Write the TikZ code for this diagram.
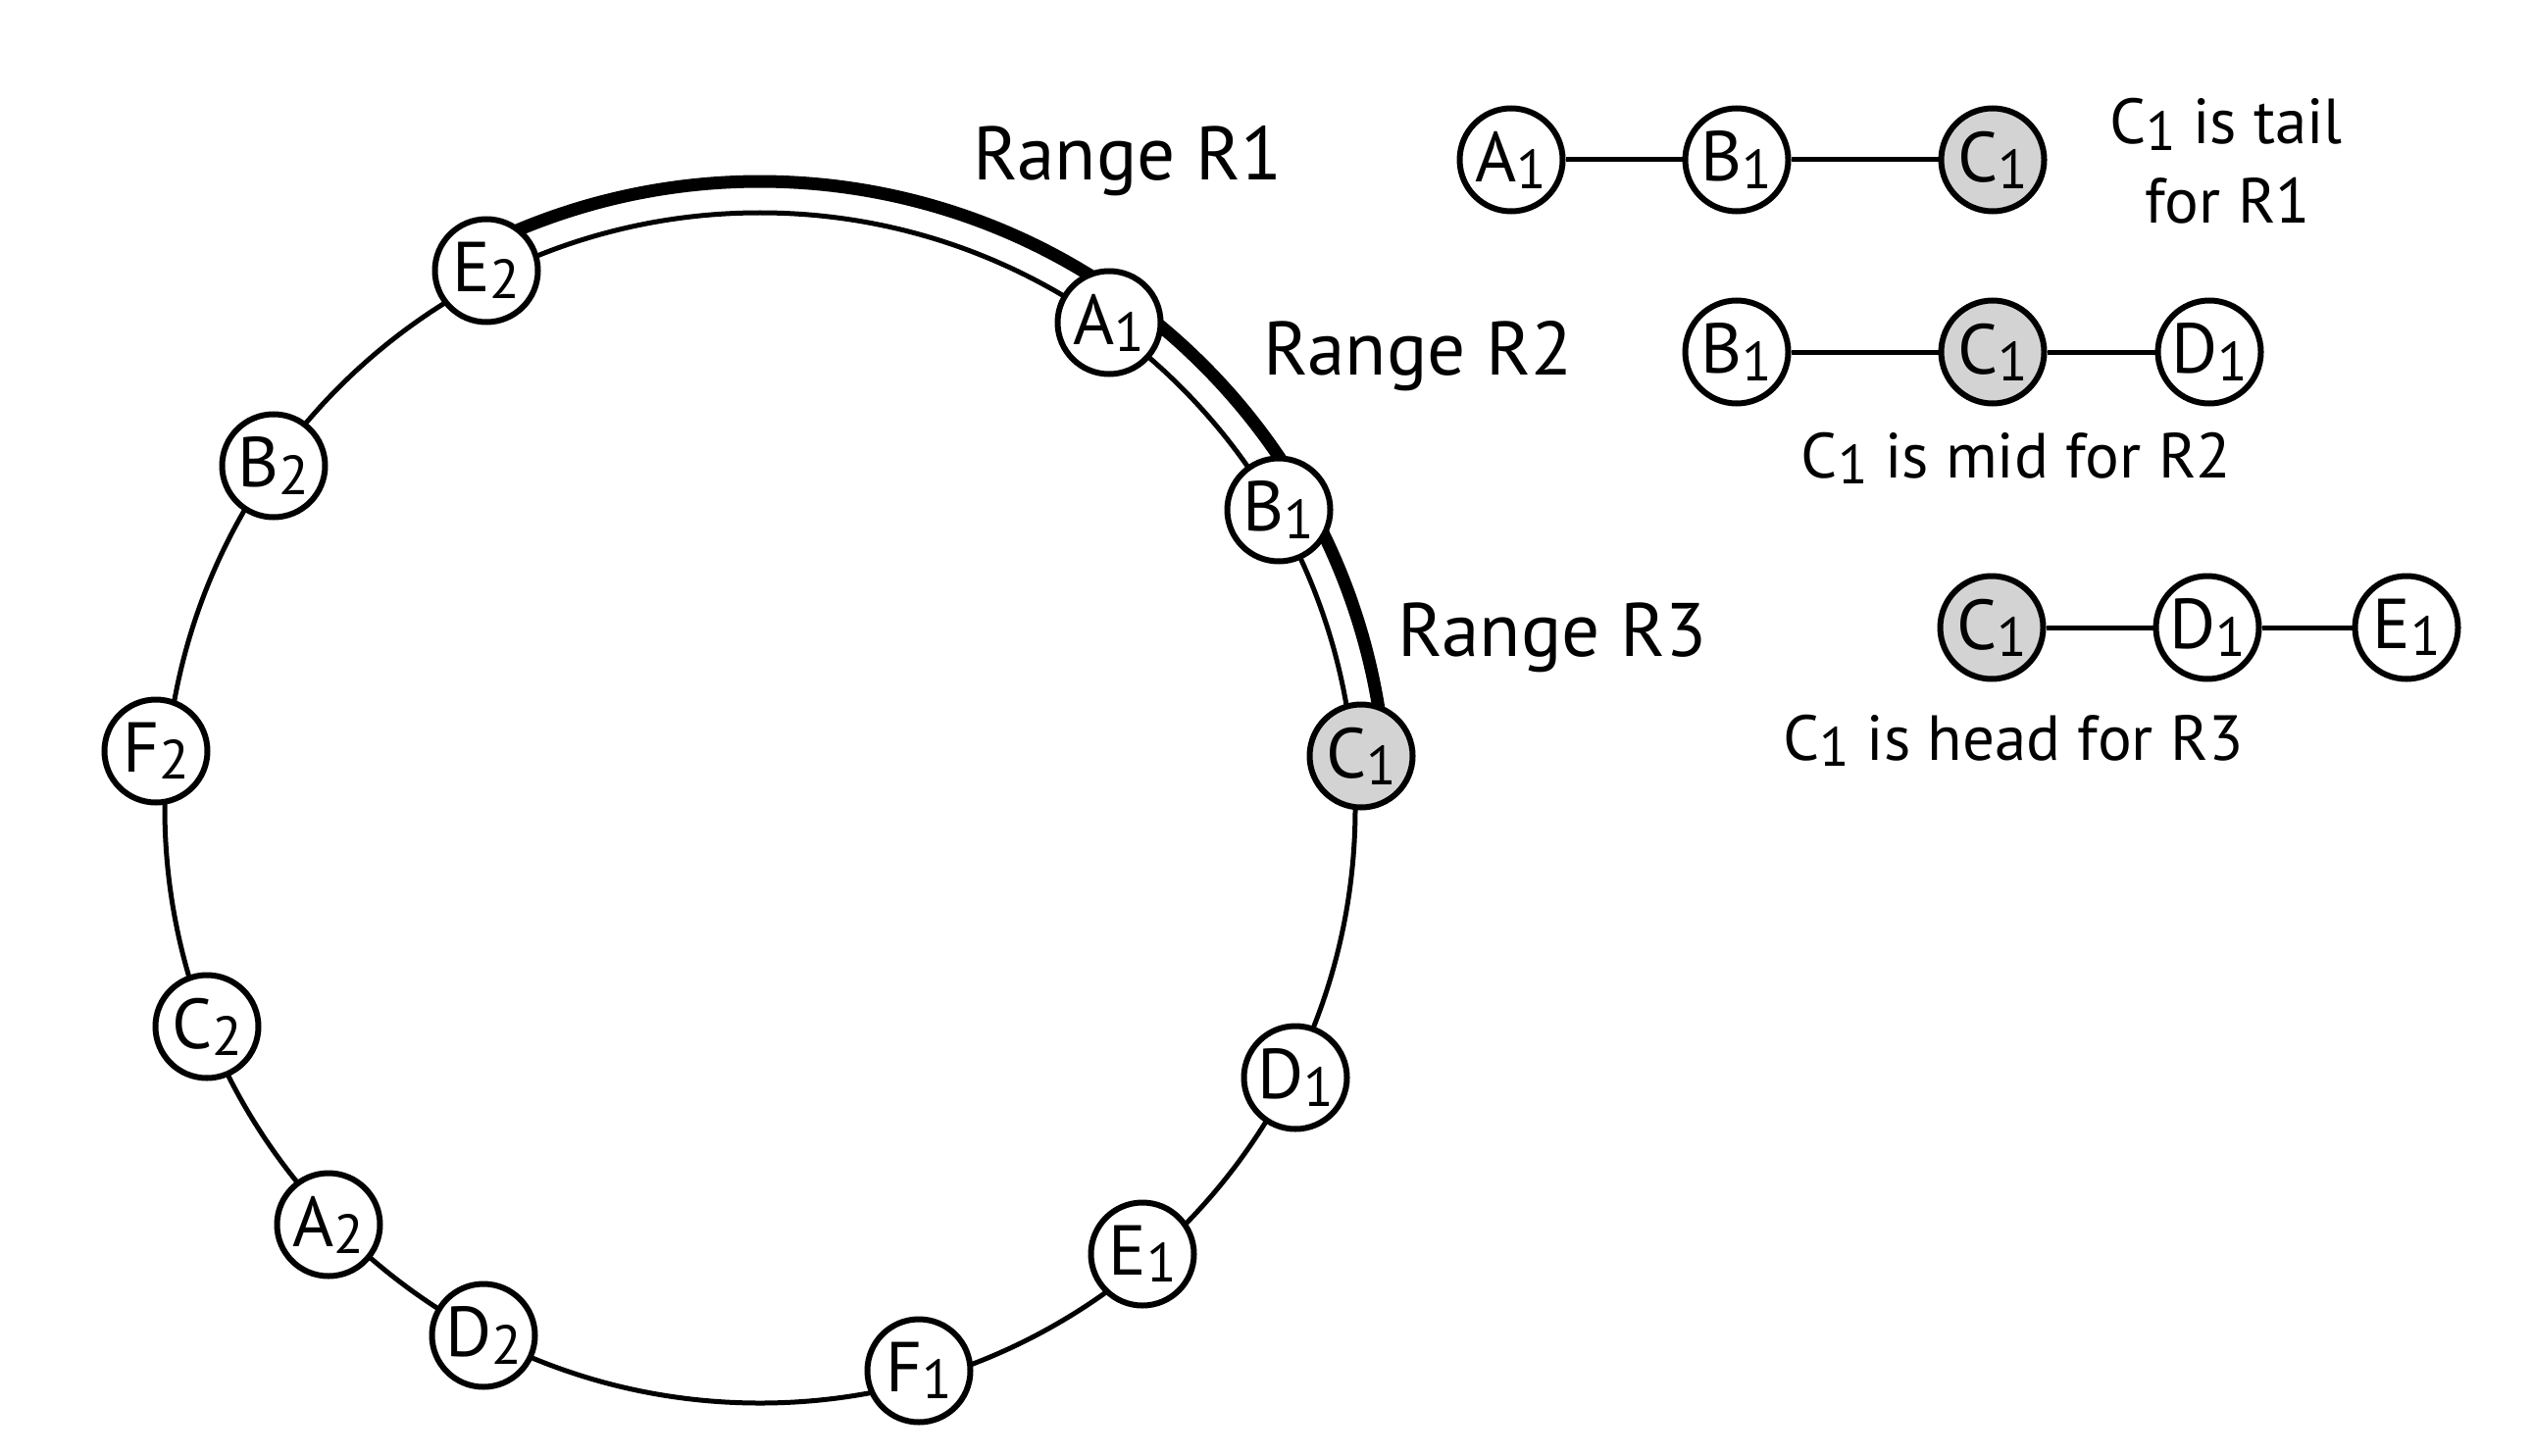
\documentclass[tikz,border=0pt]{standalone}
\usepackage{fontspec}
\setmainfont{PT Sans}
\usetikzlibrary{positioning}
\definecolor{nodegray}{RGB}{211,211,211}
\newcommand{\idx}[1]{\raisebox{-0.1em}{\fontsize{16pt}{16pt}\selectfont #1}}
\tikzstyle{ringnode} = [circle, minimum size=10.5mm, inner sep=0pt, draw=black, line width=0.6mm, fill=white, font=\fontsize{20.5pt}{24pt}\selectfont]
\tikzstyle{headnode} = [ringnode, fill=nodegray]
\tikzstyle{ring} = [line width=0.5mm]
\tikzstyle{rangearc} = [line width=1.3mm]
\tikzstyle{link} = [line width=0.5mm]
\tikzstyle{rangetext} = [font=\fontsize{22pt}{26pt}\selectfont, anchor=base, inner sep=0pt]
\tikzstyle{notetext} = [font=\fontsize{18.5pt}{22pt}\selectfont, anchor=base, inner sep=0pt]

\begin{document}
\begin{tikzpicture}[x=0.1mm, y=0.1mm]
\useasboundingbox (0,0) rectangle (2582,1484);

% the ring and the three ranges
\coordinate (ctr) at (775,660);
\draw[ring] (ctr) circle[radius=607];
\draw[rangearc] (ctr) ++(117.0:639) arc[start angle=117.0, end angle=54.3, radius=639];
\draw[rangearc] (ctr) ++(54.3:639) arc[start angle=54.3, end angle=29.9, radius=639];
\draw[rangearc] (ctr) ++(29.9:639) arc[start angle=29.9, end angle=4.9, radius=639];

\foreach \l/\n/\x/\y in {B/1/1304/964, A/1/1131/1155, E/2/496/1208, B/2/279/1009,
                         F/2/159/718, C/2/211/437, A/2/335/235, D/2/493/122,
                         F/1/937/86, E/1/1165/205, D/1/1321/385}
  \node[ringnode] (r\l\n) at (\x,\y) {\l\idx{\n}};
\node[headnode] (rC1) at (1388,713) {C\idx{1}};

\node[rangetext] (r1text) at (1150,1300) {Range R1};
\node[rangetext] (r2text) at (1446,1102) {Range R2};
\node[rangetext] (r3text) at (1583,815) {Range R3};

% C1 as tail
\node[ringnode] (tA1) at (1541,1321) {A\idx{1}};
\node[ringnode] (tB1) at (1771,1321) {B\idx{1}};
\node[headnode] (tC1) at (2032,1321) {C\idx{1}};
\draw[link] (tA1) -- (tB1);
\draw[link] (tB1) -- (tC1);
\node[notetext] (tailtext) at (2270,1337) {C\idx{1} is tail};
\node[notetext] (tailtext2) at (2272,1256) {for R1};

% C1 as mid
\node[ringnode] (mB1) at (1771,1125) {B\idx{1}};
\node[headnode] (mC1) at (2032,1125) {C\idx{1}};
\node[ringnode] (mD1) at (2253,1125) {D\idx{1}};
\draw[link] (mB1) -- (mC1);
\draw[link] (mC1) -- (mD1);
\node[notetext] (midtext) at (2056,997) {C\idx{1} is mid for R2};

% C1 as head
\node[headnode] (hC1) at (2031,844) {C\idx{1}};
\node[ringnode] (hD1) at (2251,844) {D\idx{1}};
\node[ringnode] (hE1) at (2454,844) {E\idx{1}};
\draw[link] (hC1) -- (hD1);
\draw[link] (hD1) -- (hE1);
\node[notetext] (headtext) at (2053,709) {C\idx{1} is head for R3};

\end{tikzpicture}
\end{document}
